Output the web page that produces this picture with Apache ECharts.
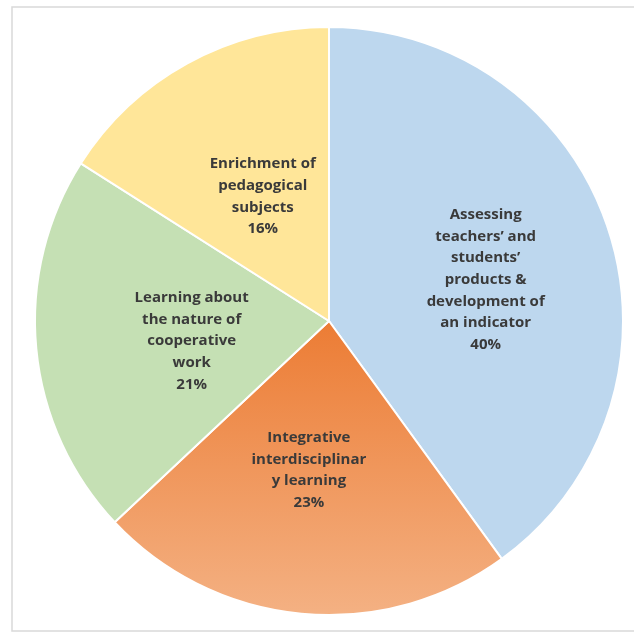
<!DOCTYPE html>
<html><head><meta charset="utf-8">
<script src="https://cdn.jsdelivr.net/npm/echarts@6/dist/echarts.min.js"></script>
<style>html,body{margin:0;padding:0;background:#fff}#c{width:634px;height:633px}</style>
</head><body><div id="c"></div>
<script>
const categories = [
  "Assessing\nteachers’ and\nstudents’\nproducts &\ndevelopment of\nan indicator",
  "Integrative\ninterdisciplinar\ny learning",
  "Learning about\nthe nature of\ncooperative\nwork",
  "Enrichment of\npedagogical\nsubjects"
];
const values = [40, 23, 21, 16];
const colors = [
  '#BDD7EE',
  {type:'linear',x:0,y:0,x2:0,y2:1,colorStops:[{offset:0,color:'#EC7C34'},{offset:1,color:'#F4B183'}]},
  '#C5E0B4',
  '#FFE699'
];
const labelOffsets = [[14,5],[-6,0],[12,6],[6,7]];
const chart = echarts.init(document.getElementById('c'));
chart.setOption({
  backgroundColor:'#fff',
  animation:false,
  graphic:[{type:'rect',shape:{x:12,y:7,width:640,height:624},style:{fill:'none',stroke:'#d9d9d9',lineWidth:1.5}}],
  series:[{
    type:'pie',
    center:[329,321],
    radius:294,
    startAngle:90,
    clockwise:true,
    data: categories.map((n,i)=>({name:n,value:values[i],itemStyle:{color:colors[i]},label:{offset:labelOffsets[i]}})),
    itemStyle:{borderColor:'#fff',borderWidth:2},
    label:{
      position:'inside',
      formatter:'{b}\n{c}%',
      color:'#3a3a3a',
      fontFamily:'Open Sans',
      fontWeight:'bold',
      fontSize:15,
      lineHeight:21.6,
      align:'center'
    },
    labelLine:{show:false},
    emphasis:{disabled:true}
  }]
});
</script></body></html>
